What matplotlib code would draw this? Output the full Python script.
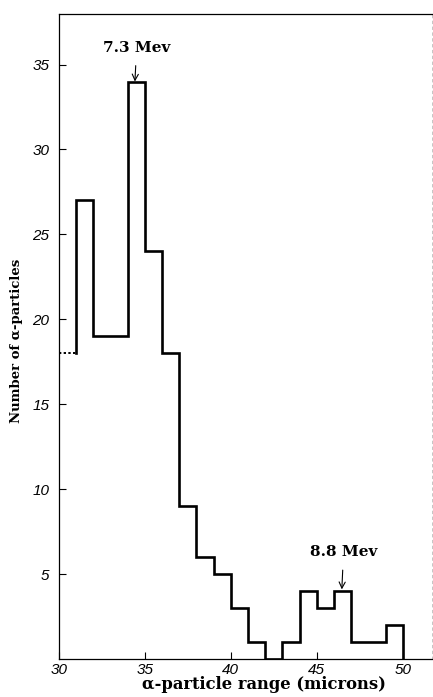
import matplotlib

matplotlib.use("Agg")
import matplotlib.pyplot as plt
import numpy as np

# histogram of alpha-particle ranges, 1-micron bins from 31 to 50
bin_edges = list(range(31, 51))
counts = [27, 19, 19, 34, 24, 18, 9, 6, 5, 3, 1, 0, 1, 4, 3, 4, 1, 1, 2]
# incomplete first bin, drawn dotted
lead_edges = [30, 31]
lead_count = 18

peak_labels = ["7.3 Mev", "8.8 Mev"]
peak_x = [34.42, 46.45]
peak_y = [34.0, 4.1]
label_y = [36.0, 6.3]

x_ticks = [30, 35, 40, 45, 50]
y_ticks = [5, 10, 15, 20, 25, 30, 35]

fig = plt.figure(figsize=(4.33, 6.97), dpi=100)
ax = fig.add_axes([0.136, 0.0545, 0.862, 0.926])

edges = np.array(bin_edges, dtype=float)
xs = np.repeat(edges, 2)
ys = np.concatenate([[lead_count], np.repeat(counts, 2), [0]])
ax.plot(xs, ys, color="black", linewidth=1.9, solid_joinstyle="miter")
ax.stairs([lead_count], lead_edges, baseline=None, color="black",
          linewidth=1.4, linestyle=(0, (1.2, 1.2)))

serif = {"family": "DejaVu Serif", "weight": "bold"}
for text, px, py, ly in zip(peak_labels, peak_x, peak_y, label_y):
    ax.annotate(text, xy=(px, py), xytext=(px + 0.1, ly), ha="center", va="center",
                fontsize=11, **serif,
                arrowprops=dict(arrowstyle="->", color="black", lw=0.8,
                                shrinkA=6, shrinkB=0))

ax.set_xlim(30, 51.7)
ax.set_ylim(0, 38)
ax.set_xticks(x_ticks)
ax.set_yticks(y_ticks)
ax.tick_params(direction="in", length=5, width=0.8, labelsize=11)
ax.tick_params(axis="y", pad=7)
ax.tick_params(axis="x", pad=3)
for lab in ax.get_xticklabels() + ax.get_yticklabels():
    lab.set_fontstyle("italic")
    lab.set_fontfamily(["Liberation Sans Narrow", "Liberation Sans"])

for side in ["left", "bottom", "top"]:
    ax.spines[side].set_linewidth(0.9)
ax.spines["right"].set_linewidth(0.6)
ax.spines["right"].set_color("#bbbbbb")
ax.spines["right"].set_linestyle((0, (3, 4)))

ax.set_xlabel("α-particle range (microns)", fontsize=11.8, **serif)
ax.set_ylabel("Number of α-particles", fontsize=9.5, **serif)
ax.xaxis.set_label_coords(0.55, -0.027)
ax.yaxis.set_label_coords(-0.095, 0.493)

fig.savefig("out.png", dpi=100)
plt.close(fig)
